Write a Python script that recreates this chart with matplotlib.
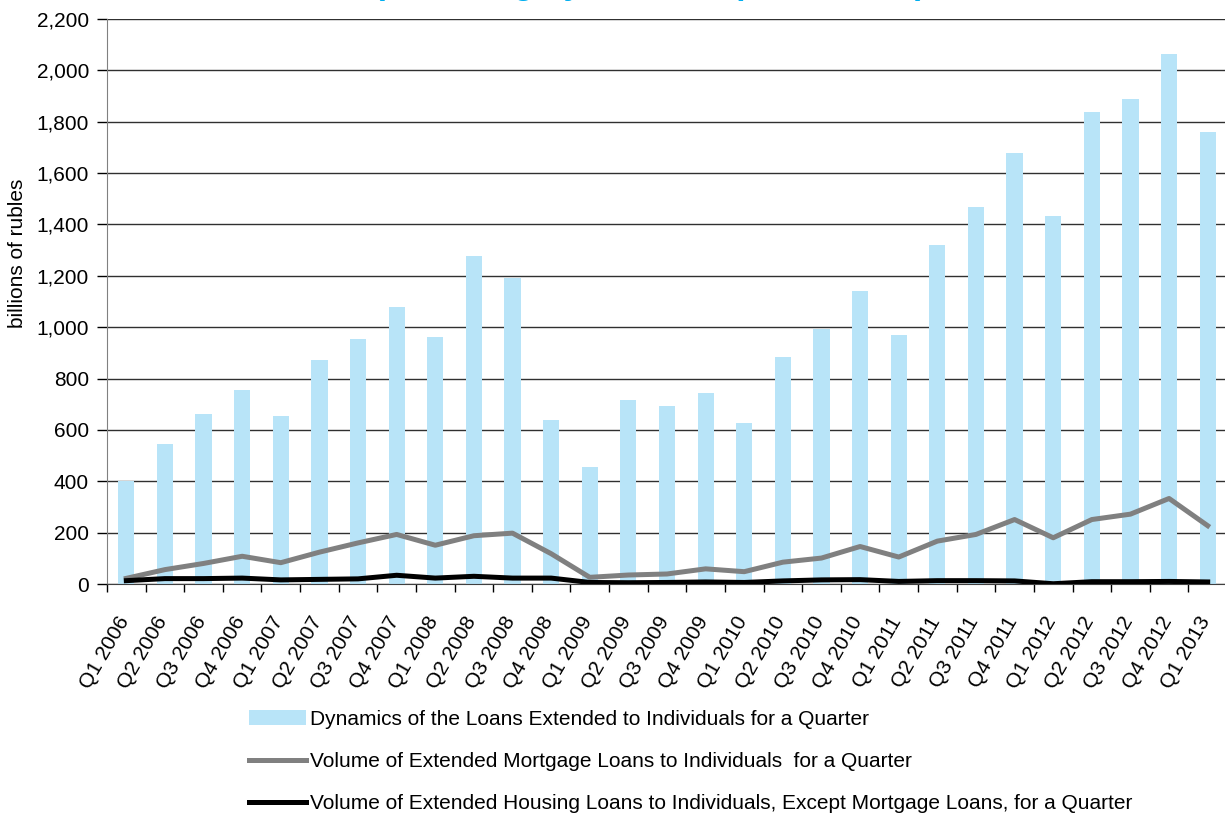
import matplotlib
matplotlib.use("Agg")
import matplotlib.pyplot as plt
import matplotlib.transforms as mtransforms
import numpy as np

plt.rcParams["font.family"] = ["Liberation Sans", "DejaVu Sans"]

# --- Данные (млрд руб.) ---
quarters = [
    "Q1 2006", "Q2 2006", "Q3 2006", "Q4 2006",
    "Q1 2007", "Q2 2007", "Q3 2007", "Q4 2007",
    "Q1 2008", "Q2 2008", "Q3 2008", "Q4 2008",
    "Q1 2009", "Q2 2009", "Q3 2009", "Q4 2009",
    "Q1 2010", "Q2 2010", "Q3 2010", "Q4 2010",
    "Q1 2011", "Q2 2011", "Q3 2011", "Q4 2011",
    "Q1 2012", "Q2 2012", "Q3 2012", "Q4 2012",
    "Q1 2013",
]
loans_total = [
    401, 544, 662, 757,
    655, 872, 955, 1078,
    960, 1278, 1193, 640,
    457, 716, 694, 744,
    628, 884, 993, 1140,
    968, 1321, 1467, 1680,
    1434, 1838, 1888, 2065,
    1760,
]
mortgage = [
    22, 56, 80, 108,
    83, 124, 160, 193,
    151, 188, 198, 118,
    26, 35, 39, 59,
    48, 85, 101, 146,
    105, 167, 193, 251,
    180, 251, 272, 333,
    227,
]
housing_other = [
    13, 21, 21, 23,
    16, 18, 20, 34,
    23, 30, 23, 23,
    6, 5, 6, 8,
    6, 12, 16, 17,
    10, 13, 13, 12,
    1, 9, 9, 10,
    8,
]
y_ticks = list(range(0, 2201, 200))

title = "(Including by Loan Purpose Areas)"
label_bars = "Dynamics of the Loans Extended to Individuals for a Quarter"
label_mortgage = "Volume of Extended Mortgage Loans to Individuals  for a Quarter"
label_housing = "Volume of Extended Housing Loans to Individuals, Except Mortgage Loans, for a Quarter"

fig = plt.figure(figsize=(12.25, 8.16), dpi=100)
ax = fig.add_axes([107 / 1225, 1 - 584 / 816, 1120 / 1225, 565 / 816])

x = np.arange(len(quarters))
bars = ax.bar(x, loans_total, width=0.42, color="#B8E4F8", zorder=2, label=label_bars)
l1, = ax.plot(x, mortgage, color="#808080", lw=3.6, zorder=3, label=label_mortgage)
l2, = ax.plot(x, housing_other, color="#000000", lw=3.6, zorder=4, label=label_housing)

ax.set_xlim(-0.5, len(quarters) - 0.5)
ax.set_ylim(0, 2200)
ax.set_yticks(y_ticks)
ax.set_yticklabels([f"{v:,}" for v in y_ticks], fontsize=15)
ax.yaxis.grid(True, color="#303030", lw=1)
ax.set_axisbelow(True)

ax.set_xticks(x)
ax.set_xticklabels(quarters, rotation=60, ha="right", rotation_mode="anchor", fontsize=15)
ax.set_xticks(np.arange(-0.5, len(quarters)), minor=True)
ax.tick_params(axis="x", which="major", length=0, pad=21)
ax.tick_params(axis="x", which="minor", length=6, color="black", width=1)
ax.tick_params(axis="y", length=7, color="black", width=1, pad=6)
# подписи кварталов чуть левее центра категории, как в оригинале
shift = mtransforms.ScaledTranslation(-0.1, 0, fig.dpi_scale_trans)
for lbl in ax.get_xticklabels():
    lbl.set_transform(lbl.get_transform() + shift)

for side in ("top", "right"):
    ax.spines[side].set_visible(False)
ax.spines["left"].set_color("#808080")
ax.spines["bottom"].set_color("#404040")

ax.set_ylabel("billions of rubles", fontsize=15)
ax.yaxis.set_label_coords(-0.071, 0.585)

# Заголовок срезан сверху: видны только нижние выносные элементы
fig.text(650 / 1225, 1 + 6 / 816, title, ha="center", va="baseline",
         fontsize=24, fontweight="bold", color="#00AEEF")

fig.legend(handles=[bars, l1, l2], loc="upper left",
           bbox_to_anchor=(249 / 1225, 1 - 710 / 816), frameon=False,
           fontsize=15, handlelength=2.75, handletextpad=0.2,
           labelspacing=1.1, borderpad=0, borderaxespad=0)

fig.savefig("out.png", dpi=100)
